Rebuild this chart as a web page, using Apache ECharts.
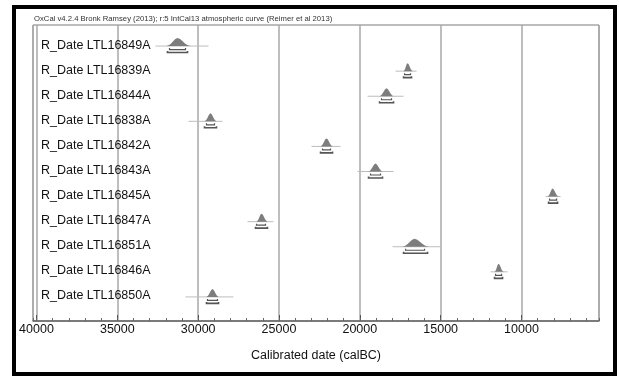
<!DOCTYPE html>
<html><head><meta charset="utf-8">
<script src="https://cdn.jsdelivr.net/npm/echarts@6/dist/echarts.min.js"></script>
<style>html,body{margin:0;padding:0;background:#fff}#c{width:619px;height:378px}</style>
</head><body><div id="c"></div>
<script>
const titleText = 'OxCal v4.2.4 Bronk Ramsey (2013); r:5 IntCal13 atmospheric curve (Reimer et al 2013)';
const axisTitle = 'Calibrated date (calBC)';
const samples = ['R_Date LTL16849A','R_Date LTL16839A','R_Date LTL16844A','R_Date LTL16838A','R_Date LTL16842A','R_Date LTL16843A','R_Date LTL16845A','R_Date LTL16847A','R_Date LTL16851A','R_Date LTL16846A','R_Date LTL16850A'];
// calibrated dates (calBC)
const peak      = [31279, 17049, 18348, 29237, 22060, 19029, 8078, 26082, 16616, 11419, 29113];
const lineFrom  = [32640, 17791, 19524, 30598, 22988, 20142, 8511, 26948, 17977, 11914, 30784];
const lineTo    = [29361, 16492, 17296, 28495, 21194, 17915, 7583, 25339, 15007, 10862, 27814];
const shapeFrom = [31959, 17296, 18781, 29608, 22431, 19461, 8387, 26391, 17358, 11667, 29485];
const shapeTo   = [30475, 16739, 17915, 28866, 21689, 18596, 7707, 25711, 15749, 11110, 28742];
const r68From   = [31774, 17235, 18657, 29485, 22308, 19338, 8264, 26391, 17173, 11605, 29423];
const r68To     = [30784, 16863, 18039, 28990, 21813, 18720, 7830, 25835, 15997, 11234, 28804];
const r95From   = [31898, 17296, 18781, 29608, 22431, 19461, 8325, 26453, 17296, 11667, 29485];
const r95To     = [30660, 16801, 17915, 28866, 21689, 18596, 7768, 25711, 15811, 11172, 28742];
const axisMin = 5206, axisMax = 40216;
// glyph outline (relative heights from tail to peak)
const profile = [0, 0.1, 0.3, 0.6, 0.88, 1];

const data = samples.map((s, i) => [i, lineFrom[i], lineTo[i], shapeFrom[i], peak[i], shapeTo[i], r68From[i], r68To[i], r95From[i], r95To[i]]);
const FONT = '"Liberation Sans", Arial, sans-serif';

const chart = echarts.init(document.getElementById('c'), null, {renderer: 'canvas'});
chart.setOption({
  animation: false,
  backgroundColor: '#fff',
  grid: {left: 33, right: 20, top: 25, bottom: 57, show: true, borderColor: '#7a7a7a', borderWidth: 1},
  xAxis: [{
    type: 'value', inverse: true, min: axisMin, max: axisMax, splitNumber: 7,
    axisLine: {show: true, onZero: false, lineStyle: {color: '#666', width: 1.5}},
    axisTick: {show: true, inside: true, length: 6, lineStyle: {color: '#555', width: 1}},
    axisLabel: {showMinLabel: false, showMaxLabel: false, margin: 2, color: '#111', fontSize: 12.5, fontFamily: FONT,
      formatter: v => (v % 5000 === 0 ? String(v) : '')},
    splitLine: {show: true, lineStyle: {color: '#a9a9a9', width: 1.5}},
    name: axisTitle, nameLocation: 'middle', nameGap: 28,
    nameTextStyle: {color: '#111', fontSize: 12.5, fontFamily: FONT}
  }, {
    type: 'value', inverse: true, min: axisMin, max: axisMax, splitNumber: 35, position: 'bottom',
    axisLine: {show: false, onZero: false}, axisLabel: {show: false}, splitLine: {show: false},
    axisTick: {show: true, inside: true, length: 3, lineStyle: {color: '#666', width: 1}}
  }],
  yAxis: {type: 'value', inverse: true, min: -0.8, max: 11, show: false},
  graphic: [
    {type: 'rect', shape: {x: 14, y: 7, width: 601, height: 367}, style: {fill: 'none', stroke: '#000', lineWidth: 4}, z: 100},
    {type: 'text', x: 34, y: 19, style: {text: titleText, font: '7.7px ' + FONT, fill: '#333', verticalAlign: 'middle'}, z: 100}
  ],
  series: [{
    type: 'custom', xAxisIndex: 0, clip: false,
    encode: {x: [1, 2], y: 0},
    data: data,
    renderItem: function (params, api) {
      const i = api.value(0);
      const y = api.coord([api.value(4), i])[1];
      const b = y + 1;
      const X = v => api.coord([v, i])[0];
      const xl = X(api.value(3)), xp = X(api.value(4)), xr = X(api.value(5));
      const H = 8, n = profile.length - 1;
      const pts = [];
      for (let k = 0; k <= n; k++) pts.push([xl + (xp - xl) * k / n, b - profile[k] * H]);
      for (let k = n - 1; k >= 0; k--) pts.push([xp + (xr - xp) * (n - k) / n, b - profile[k] * H]);
      const bracket = (a, c, yy, w) => ({type: 'polyline', shape: {points: [[X(a), yy - 1.5], [X(a), yy], [X(c), yy], [X(c), yy - 1.5]]},
        style: {stroke: '#555', lineWidth: w, fill: 'none'}});
      return {type: 'group', children: [
        {type: 'line', shape: {x1: X(api.value(1)), y1: b, x2: X(api.value(2)), y2: b}, style: {stroke: '#bdbdbd', lineWidth: 1}},
        {type: 'polygon', shape: {points: pts}, style: {fill: '#7d7d7d'}},
        bracket(api.value(6), api.value(7), b + 3.5, 1.2),
        bracket(api.value(8), api.value(9), b + 6.5, 1.6),
        {type: 'text', style: {text: samples[i], x: params.coordSys.x + 8, y: y, verticalAlign: 'middle', font: '12.5px ' + FONT, fill: '#111'}}
      ]};
    }
  }]
});
</script></body></html>
